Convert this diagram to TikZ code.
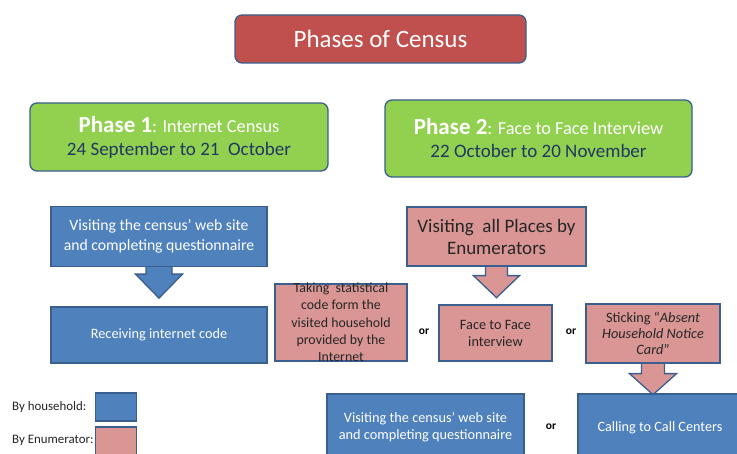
\documentclass[tikz,border=0pt]{standalone}
\usepackage{fontspec}
\setmainfont{Carlito}
\usetikzlibrary{calc}
\definecolor{bfill}{HTML}{4F81BD}
\definecolor{bline}{HTML}{3A5F8E}
\definecolor{pfill}{HTML}{D99694}
\definecolor{gfill}{HTML}{92D050}
\definecolor{rfill}{HTML}{C0504D}
\definecolor{navy}{HTML}{1F3864}
\definecolor{dtext}{HTML}{262626}
\pgfdeclarelayer{bg}
\pgfsetlayers{bg,main}
\newcommand{\bkarrow}[6]{%
  \draw[#1] ($(#2.south)+(-#3,-3)$) -- ($(#2.south)+(-#3,#5)$) -- ($(#2.south)+(-#4,#5)$)
    -- ($(#2.south)+(0,#6)$) -- ($(#2.south)+(#4,#5)$) -- ($(#2.south)+(#3,#5)$)
    -- ($(#2.south)+(#3,-3)$) -- cycle;}
\begin{document}
\begin{tikzpicture}[x=1pt,y=-1pt,
  box/.style={draw=bline, line width=1.3pt, inner sep=0pt, align=center},
  bluebox/.style={box, fill=bfill, text=white},
  pinkbox/.style={box, fill=pfill, text=dtext},
  greenbox/.style={box, fill=gfill, rounded corners=7pt},
  titlebox/.style={box, fill=rfill, rounded corners=7pt, text=white},
  plain/.style={inner sep=0pt, align=center},
  ortext/.style={plain, font=\fontsize{11.5}{13}\selectfont\bfseries, text=black},
  legtext/.style={plain, font=\fontsize{12.9}{15}\selectfont, text=dtext, anchor=west},
  barrow/.style={draw=bline, line width=1.3pt, fill=bfill, line join=miter},
  parrow/.style={draw=bline, line width=1.3pt, fill=pfill, line join=miter},
]
\clip (0,0) rectangle (737,454);

% title
\node[titlebox, minimum width=291pt, minimum height=48pt,
      font=\fontsize{25}{28}\selectfont] (title) at (380.5,39) {Phases of Census};

% phase boxes
\node[greenbox, minimum width=298pt, minimum height=68pt] (p1) at (179,137) {};
\node[plain, text=white, anchor=base] (p1a) at (179,133)
  {{\fontsize{23}{25}\selectfont\bfseries Phase 1}{\fontsize{18.3}{20}\selectfont: Internet Census}};
\node[plain, text=navy, font=\fontsize{19}{21}\selectfont, anchor=base] (p1b) at (179,156)
  {24 September to 21\ \ October};

\node[greenbox, minimum width=307pt, minimum height=77pt] (p2) at (538.5,138.5) {};
\node[plain, text=white, anchor=base] (p2a) at (538.5,135)
  {{\fontsize{23}{25}\selectfont\bfseries Phase 2}{\fontsize{18.3}{20}\selectfont: Face to Face Interview}};
\node[plain, text=navy, font=\fontsize{19}{21}\selectfont, anchor=base] (p2b) at (538.5,157.5)
  {22 October to 20 November};

% phase 1 column
\node[bluebox, minimum width=216pt, minimum height=60pt,
      font=\fontsize{15.7}{20}\selectfont] (web1) at (159,236.5)
  {Visiting the census’ web site\\and completing questionnaire};
\node[bluebox, minimum width=216pt, minimum height=56pt,
      font=\fontsize{14.3}{16}\selectfont] (code) at (159,335)
  {Receiving internet code};

% phase 2
\node[pinkbox, minimum width=179pt, minimum height=59pt,
      font=\fontsize{19}{22}\selectfont] (visit) at (496.5,236.5)
  {Visiting\ \ all Places by\\Enumerators};

\node[pinkbox, minimum width=132pt, minimum height=77pt] (take) at (341,322.5) {};
\node[plain, text=dtext, font=\fontsize{13.9}{17.3}\selectfont] (takeT) at (take.center)
  {Taking\ \ statistical\\code form the\\visited household\\provided by the\\Internet};

\node[ortext] (or1) at (424,332) {or};

\node[pinkbox, minimum width=113pt, minimum height=56pt,
      font=\fontsize{14.3}{17}\selectfont] (f2f) at (495.5,333)
  {Face to Face\\interview};

\node[ortext] (or2) at (571,332) {or};

\node[pinkbox, minimum width=134pt, minimum height=59pt,
      font=\fontsize{14.3}{16}\selectfont] (stick) at (653,333.5)
  {Sticking “\textit{Absent}\\\textit{Household Notice}\\\textit{Card}”};

% bottom row
\node[bluebox, minimum width=197pt, minimum height=76pt] (web2) at (425.5,432) {};
\node[plain, text=white, font=\fontsize{14.3}{17}\selectfont] (web2T) at (425.5,427.5)
  {Visiting the census’ web site\\and completing questionnaire};

\node[ortext] (or3) at (551,427) {or};

\node[bluebox, minimum width=167pt, minimum height=76pt] (call) at (661.5,432) {};
\node[plain, text=white, font=\fontsize{14.2}{16}\selectfont] (callT) at (660,428)
  {Calling to Call Centers};

% legend
\node[legtext] (lh) at (12,407) {By household:};
\node[box, fill=bfill, minimum width=41pt, minimum height=28pt] (lhb) at (116,407) {};
\node[legtext] (le) at (12,440) {By Enumerator:};
\node[box, fill=pfill, minimum width=41pt, minimum height=28pt] (leb) at (116,441) {};

% block arrows
\begin{pgfonlayer}{bg}
  \fill[white] (0,0) rectangle (737,454);
  \bkarrow{barrow}{web1}{13}{23.5}{7}{31}
  \bkarrow{parrow}{visit}{11}{23}{9}{31}
  \bkarrow{parrow}{stick}{11.5}{23.5}{10}{31}
\end{pgfonlayer}
\end{tikzpicture}
\end{document}
